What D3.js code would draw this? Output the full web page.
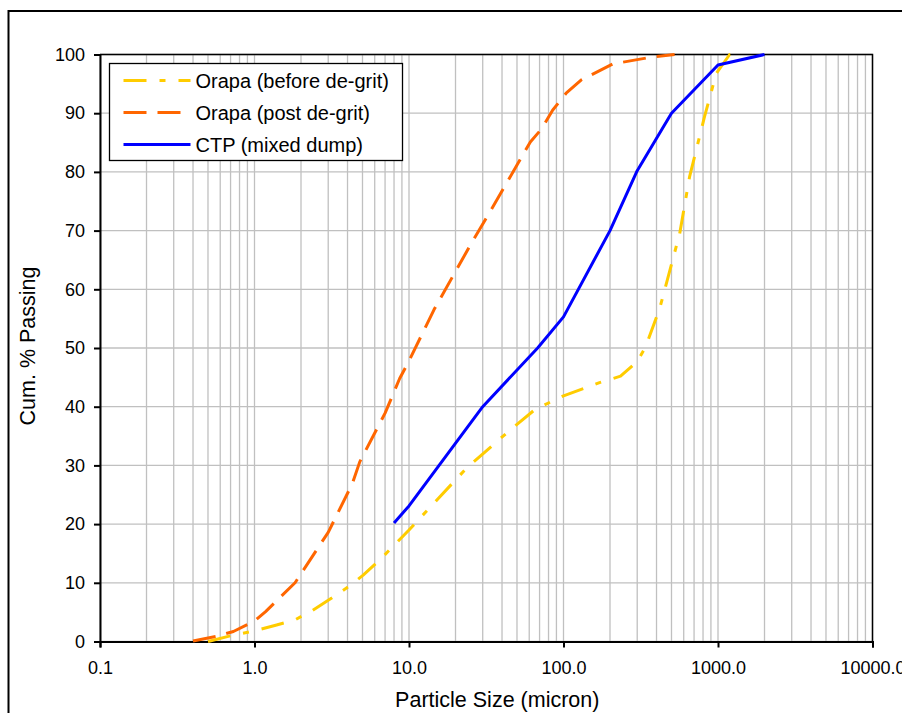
<!DOCTYPE html>
<html>
<head>
<meta charset="utf-8">
<script src="https://cdn.jsdelivr.net/npm/d3@7"></script>
<style>
  html, body { margin: 0; padding: 0; background: #fff; }
  svg { display: block; font-family: "Liberation Sans", Arial, sans-serif; }
</style>
</head>
<body>
<div id="chart"></div>
<script>
// particle size (micron) / cumulative % passing
const beforeSize = [0.5, 0.73, 1.0, 1.39, 1.83, 2.34, 3.16, 4.04, 5.05, 6.47, 10, 23.5, 45, 66, 99, 171, 234, 300, 340, 420, 565, 655, 818, 975, 1190, 1410];
const beforePass = [0, 1.1, 1.8, 2.8, 3.7, 5.2, 7.4, 9.3, 11.3, 13.9, 19, 29.5, 36, 39.6, 41.8, 44.1, 45.2, 47.7, 50.2, 56.8, 69.5, 79.2, 89.4, 96.8, 100, 100];

const postSize = [0.4, 0.57, 0.73, 1.0, 1.18, 1.83, 3.0, 4.3, 4.8, 7.0, 8.7, 10, 14.5, 25.4, 35, 61, 72, 85, 104, 131, 209, 380, 524];
const postPass = [0.1, 0.9, 1.7, 3.5, 5.1, 10, 18.6, 26.9, 30.6, 38.9, 44.8, 47.8, 56.5, 67.9, 74.1, 85.1, 87.3, 90.5, 93.4, 95.7, 98.4, 99.6, 100];

const ctpSize = [8, 10, 30, 68, 100, 200, 300, 500, 1000, 2000];
const ctpPass = [20.2, 23.1, 40, 50, 55.3, 70, 80.2, 90, 98.2, 100];

const seriesNames = ['Orapa (before de-grit)', 'Orapa (post de-grit)', 'CTP (mixed dump)'];
const xTicks = [0.1, 1, 10, 100, 1000, 10000];
const yTicks = [0, 10, 20, 30, 40, 50, 60, 70, 80, 90, 100];

const W = 902, H = 713;
const plot = { left: 100, top: 54.5, right: 872.5, bottom: 641.5 };

const svg = d3.select('#chart').append('svg')
  .attr('width', W)
  .attr('height', H);

// outer chart border (runs off the right and bottom of the picture)
svg.append('rect')
  .attr('x', 8.5).attr('y', 11)
  .attr('width', 1000).attr('height', 1000)
  .attr('fill', 'none')
  .attr('stroke', '#000')
  .attr('stroke-width', 2);

const x = d3.scaleLog().domain([0.1, 10000]).range([plot.left, plot.right]);
const y = d3.scaleLinear().domain([0, 100]).range([plot.bottom, plot.top]);

// grid
const minor = [];
for (let e = -1; e < 4; e++) {
  for (let m = 1; m <= 9; m++) minor.push(m * Math.pow(10, e));
}
minor.push(10000);

const grid = svg.append('g').attr('class', 'grid');
grid.selectAll('.vgrid')
  .data(minor)
  .enter()
  .append('line')
  .attr('x1', d => x(d)).attr('x2', d => x(d))
  .attr('y1', plot.top).attr('y2', plot.bottom)
  .attr('stroke', '#c0c0c0')
  .attr('stroke-width', 1.3);

grid.selectAll('.hgrid')
  .data(yTicks)
  .enter()
  .append('line')
  .attr('x1', plot.left).attr('x2', plot.right)
  .attr('y1', d => y(d)).attr('y2', d => y(d))
  .attr('stroke', '#c0c0c0')
  .attr('stroke-width', 1.3);

// plot frame top/right
svg.append('path')
  .attr('d', `M${plot.left},${plot.top}H${plot.right}V${plot.bottom}`)
  .attr('fill', 'none')
  .attr('stroke', '#000')
  .attr('stroke-width', 1.5);

// axes
const xAxis = svg.append('g')
  .attr('transform', `translate(0,${plot.bottom})`)
  .call(d3.axisBottom(x).tickValues(xTicks).tickSize(6).tickPadding(14)
    .tickFormat(d => d.toFixed(1)));

const yAxis = svg.append('g')
  .attr('transform', `translate(${plot.left},0)`)
  .call(d3.axisLeft(y).tickValues(yTicks).tickSize(6).tickPadding(9));

[xAxis, yAxis].forEach(a => {
  a.select('.domain').attr('stroke', '#000').attr('stroke-width', 2);
  a.selectAll('.tick line').attr('stroke', '#000').attr('stroke-width', 2);
  a.selectAll('.tick text')
    .attr('fill', '#000')
    .style('font-size', '18px')
    .style('font-family', '"Liberation Sans", Arial, sans-serif');
});

// axis titles
svg.append('text')
  .attr('x', (plot.left + plot.right) / 2 + 11)
  .attr('y', 707)
  .attr('text-anchor', 'middle')
  .style('font-size', '21.5px')
  .text('Particle Size (micron)');

svg.append('text')
  .attr('transform', 'rotate(-90)')
  .attr('x', -346)
  .attr('y', 35)
  .attr('text-anchor', 'middle')
  .style('font-size', '21.5px')
  .text('Cum. % Passing');

// series
const series = [
  { name: seriesNames[0], xs: beforeSize, ys: beforePass, color: '#FFCC00', dash: '23,13,6,13' },
  { name: seriesNames[1], xs: postSize, ys: postPass, color: '#FF6600', dash: '23,11' },
  { name: seriesNames[2], xs: ctpSize, ys: ctpPass, color: '#0000FF', dash: null }
];

const line = d3.line()
  .x(d => x(d[0]))
  .y(d => y(d[1]));

series.forEach(s => {
  svg.append('path')
    .datum(s.xs.map((v, i) => [v, s.ys[i]]))
    .attr('d', line)
    .attr('fill', 'none')
    .attr('stroke', s.color)
    .attr('stroke-width', 3)
    .attr('stroke-dasharray', s.dash)
    .attr('stroke-linejoin', 'round');
});

// legend
const legend = svg.append('g')
  .attr('transform', 'translate(109.5,63.5)');

legend.append('rect')
  .attr('width', 293)
  .attr('height', 97)
  .attr('fill', '#fff')
  .attr('stroke', '#000')
  .attr('stroke-width', 1.3);

const items = legend.selectAll('.legend-item')
  .data(series)
  .enter()
  .append('g')
  .attr('transform', (d, i) => `translate(0,${17 + i * 32})`);

items.append('line')
  .attr('x1', 14).attr('x2', 81)
  .attr('stroke', d => d.color)
  .attr('stroke-width', 3)
  .attr('stroke-dasharray', d => d.dash);

items.append('text')
  .attr('x', 86)
  .attr('y', 7)
  .style('font-size', '20px')
  .text(d => d.name);
</script>
</body>
</html>
